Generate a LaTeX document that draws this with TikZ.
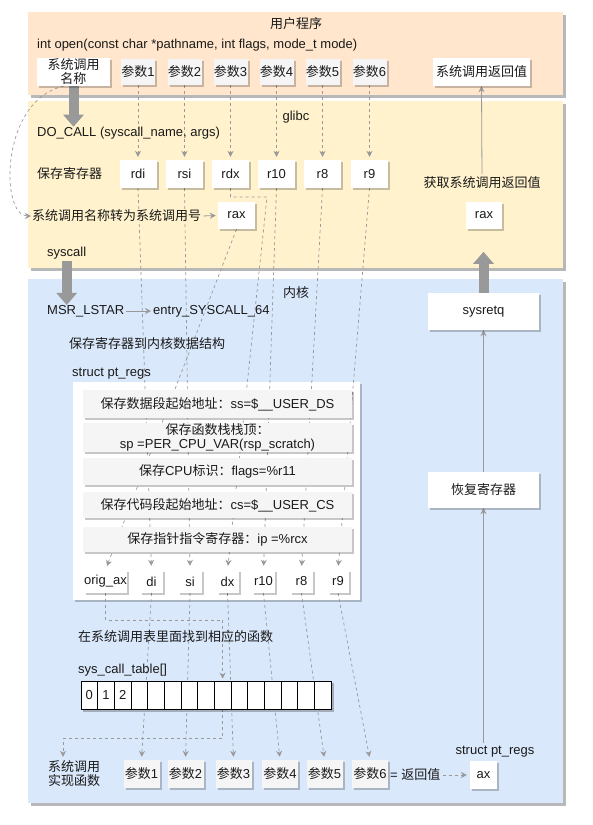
\documentclass[tikz,border=0pt]{standalone}
\usepackage{fontspec}
\setmainfont{Liberation Sans}
\newfontfamily\cjk{Noto Sans CJK SC}
\usetikzlibrary{arrows.meta,shadows}
\pgfdeclarelayer{bg}
\pgfdeclarelayer{mid}
\pgfsetlayers{bg,mid,main}
\definecolor{userc}{HTML}{FFE6CC}
\definecolor{glibcc}{HTML}{FFF2CC}
\definecolor{kernc}{HTML}{DAE8FC}
\definecolor{boxg}{HTML}{F5F5F5}
\definecolor{lineg}{HTML}{999999}
\definecolor{blockg}{HTML}{999999}
\definecolor{txt}{HTML}{1A1A1A}
\begin{document}
\begin{tikzpicture}[x=1pt,y=-1pt,
  font=\fontsize{13}{15}\selectfont, text=txt,
  every node/.style={inner sep=0pt},
  pshadow/.style={drop shadow={shadow xshift=3pt,shadow yshift=-3pt,fill=black,opacity=0.28}},
  bshadow/.style={drop shadow={shadow xshift=2pt,shadow yshift=-2pt,fill=black,opacity=0.22}},
  panel/.style={fill=#1, draw=none, pshadow, anchor=north west},
  wbox/.style={fill=white, bshadow, align=center},
  gbox/.style={fill=boxg, bshadow, align=center},
  cell/.style={draw=black, fill=white, line width=0.8pt, minimum width=16.667pt, minimum height=28pt},
  dline/.style={draw=lineg, dash pattern=on 3pt off 3pt, line width=0.7pt, -{Stealth[length=6pt,width=6pt,inset=2pt]}},
  sline/.style={draw=lineg, line width=0.8pt, -{Stealth[length=6pt,width=6pt,inset=2pt]}},
  blockarr/.style={draw=blockg, line width=10pt, -{Triangle[length=12pt,width=20pt]}},
]
\useasboundingbox (0,0) rectangle (592,825);

\begin{pgfonlayer}{bg}
\node[panel=userc, minimum width=535pt, minimum height=83pt] (user) at (28,12) {};
\node[panel=glibcc, minimum width=535pt, minimum height=167pt] (glibc) at (28,101) {};
\node[panel=kernc, minimum width=535pt, minimum height=524pt] (kern) at (28,279) {};
\node[fill=white, bshadow, minimum width=287pt, minimum height=218pt, anchor=north west] (ptbox) at (73,382) {};
\end{pgfonlayer}

% user program
\node (utitle) at (296,24) {\cjk 用户程序};
\node[anchor=west] (uopen) at (37,45) {int open(const char *pathname, int flags, mode\_t mode)};
\node[wbox, minimum width=73pt, minimum height=28pt, font=\fontsize{13}{14}\selectfont\cjk] (sysname) at (73.5,72) {系统调用\\名称};
\foreach \i/\x in {1/138,2/184.5,3/230.5,4/276.5,5/322.5,6/369.5}
  \node[gbox, minimum width=34pt, minimum height=26pt] (p\i) at (\x,72) {{\cjk 参数}\i};
\node[wbox, minimum width=97pt, minimum height=28pt] (ret) at (481.5,72) {\cjk 系统调用返回值};

% glibc
\node (glibct) at (296,117) {glibc};
\node[anchor=west] (docall) at (37,133) {DO\_CALL (syscall\_name, args)};
\node[anchor=west] (save) at (37,174) {\cjk 保存寄存器};
\foreach \nm/\x in {rdi/138,rsi/184.5,rdx/230.5,r10/276.5,r8/322.5,r9/369.5}
  \node[wbox, minimum width=37pt, minimum height=28pt] (\nm) at (\x,174) {\nm};
\node[anchor=west] (conv) at (32,216) {\cjk 系统调用名称转为系统调用号};
\node[wbox, minimum width=37pt, minimum height=27pt] (rax) at (236.5,215.5) {rax};
\node[anchor=west] (syscall) at (47,253) {syscall};
\node (getret) at (482,183) {\cjk 获取系统调用返回值};
\node[wbox, minimum width=36pt, minimum height=27pt] (rax2) at (484,215.5) {rax};

% kernel
\node (kernt) at (296,293) {\cjk 内核};
\node[anchor=west] (msr) at (47,311) {MSR\_LSTAR};
\node[anchor=west] (entry) at (153,311) {entry\_SYSCALL\_64};
\node[anchor=west] (savek) at (69,344) {\cjk 保存寄存器到内核数据结构};
\node[anchor=west] (ptl) at (72,374) {struct pt\_regs};

\node[gbox, minimum width=269pt, minimum height=28pt] (row1) at (217.5,404) {{\cjk 保存数据段起始地址：}ss=\$\_\_USER\_DS};
\node[gbox, minimum width=269pt, minimum height=29pt, font=\fontsize{13}{14}\selectfont] (row2) at (217.5,437.5) {{\cjk 保存函数栈栈顶：}\\sp =PER\_CPU\_VAR(rsp\_scratch)};
\node[gbox, minimum width=269pt, minimum height=27pt] (row3) at (217.5,471.5) {{\cjk 保存}CPU{\cjk 标识：}flags=\%r11};
\node[gbox, minimum width=269pt, minimum height=26pt] (row4) at (217.5,505) {{\cjk 保存代码段起始地址：}cs=\$\_\_USER\_CS};
\node[gbox, minimum width=269pt, minimum height=25pt] (row5) at (217.5,539.5) {{\cjk 保存指针指令寄存器：}ip =\%rcx};

\foreach \nm/\t/\x/\w in {origax/orig\_ax/105.5/43, di/di/151.5/23, si/si/190/24, dx/dx/227.5/22, r10b/r10/263.5/23, r8b/r8/301.5/23, r9b/r9/338/21}
  \node[wbox, minimum width=\w, minimum height=23pt] (\nm) at (\x,581.5) {\t};

\node[anchor=west] (findt) at (78,637) {\cjk 在系统调用表里面找到相应的函数};
\node[anchor=west] (sct) at (78,670) {sys\_call\_table[]};
\fill[black,opacity=0.25] (83,683) rectangle (334,712);
\foreach \i in {0,...,14}
  \node[cell] (c\i) at ({89.333+16.667*\i},695) {\ifnum\i<3 \i\fi};

\node[align=center, font=\fontsize{13}{14}\selectfont\cjk] (impl) at (74,774) {系统调用\\实现函数};
\foreach \i/\x in {1/141.5,2/185.5,3/233.5,4/280,5/324.5,6/370}
  \node[gbox, minimum width=36pt, minimum height=28pt] (q\i) at (\x,774) {{\cjk 参数}\i};
\node[anchor=west] (eqret) at (390,775) {= {\cjk 返回值}};
\node[wbox, minimum width=27pt, minimum height=28pt] (ax) at (483.5,775) {ax};
\node (ptl2) at (495,752) {struct pt\_regs};

\node[wbox, minimum width=111pt, minimum height=37pt] (sysretq) at (483.5,311.5) {sysretq};
\node[wbox, minimum width=111pt, minimum height=36pt] (restore) at (483.5,490) {\cjk 恢复寄存器};

\begin{pgfonlayer}{mid}
\foreach \i/\nm in {1/rdi,2/rsi,3/rdx,4/r10,5/r8,6/r9}
  \draw[dline, shorten >=3pt] (p\i) -- (\nm);
\draw[dline, shorten >=4pt] (rdi.south) -- (di.north);
\draw[dline, shorten >=4pt] (rsi.south) -- (si.north);
\coordinate (rdxc) at (267,197);
\draw[dline, shorten >=4pt] (rdx.south) |- (rdxc) -- (dx.north);
\draw[dline, shorten >=4pt] (r10.south) -- (r10b.north);
\draw[dline, shorten >=4pt] (r8.south) -- (r8b.north);
\draw[dline, shorten >=4pt] (r9.south) -- (r9b.north);
\draw[dline, shorten >=4pt] (rax.south) -- (origax.north);
\draw[dline, shorten >=2pt] (origax.south) -- ++(0,27) -| (c8.north);
\draw[dline, shorten >=4pt] (c8.south) -- ++(0,29) -| ([xshift=-11pt]impl.north);
\draw[dline, shorten >=3pt] (di.south) -- (q1.north);
\draw[dline, shorten >=3pt] (si.south) -- (q2.north);
\draw[dline, shorten >=3pt] (dx.south) -- (q3.north);
\draw[dline, shorten >=3pt] (r10b.south) -- (q4.north);
\draw[dline, shorten >=3pt] (r8b.south) -- (q5.north);
\draw[dline, shorten >=3pt] (r9b.south) -- (q6.north);
\draw[dline, shorten >=1pt] ([xshift=-10pt]sysname.south) .. controls (0,100) and (0,216) .. (conv.west);
\draw[dline, shorten <=2pt, shorten >=3pt] (eqret.east) -- (ax.west);
\draw[sline, shorten <=2pt, shorten >=2pt] (conv.east) -- (rax.west);
\draw[sline, shorten <=2pt, shorten >=2pt] (msr.east) -- (entry.west);
\draw[sline, shorten <=3pt] (getret.north) -- (ret.south);
\draw[sline] (restore.north) -- (sysretq.south);
\draw[sline, shorten <=3pt] (ptl2.north -| ax) -- (restore.south);
\draw[blockarr] (sysname.south) -- (sysname.south |- docall.north);
\draw[blockarr] ([yshift=-2pt]syscall.south) -- (syscall.south |- msr.north);
\draw[blockarr] (sysretq.north) -- ++(0,-41);
\end{pgfonlayer}
\end{tikzpicture}
\end{document}
